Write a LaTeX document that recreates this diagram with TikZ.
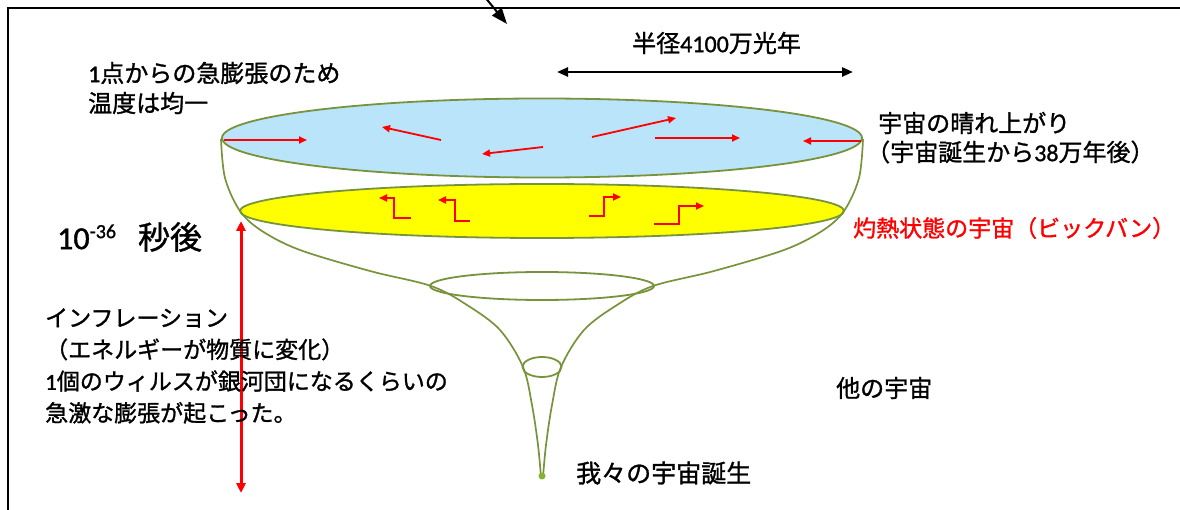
\documentclass[tikz,border=0pt]{standalone}
\usepackage{fontspec}
\setmainfont{Noto Sans CJK JP}[RawFeature={embolden=1.2}]
\newfontfamily\lat{Carlito}[RawFeature={embolden=1.2}]
\usetikzlibrary{arrows.meta}
\definecolor{bowl}{RGB}{119,147,60}
\definecolor{bowldot}{RGB}{130,180,50}
\definecolor{sky}{RGB}{186,228,250}
\definecolor{hot}{RGB}{255,255,0}
\begin{document}
\begin{tikzpicture}[x=1pt,y=-1pt,
  lbl/.style={inner sep=0pt, anchor=west, font=\fontsize{24}{30}\selectfont},
  rarrow/.style={draw=red, line width=1.8pt, -{Triangle[length=8pt,width=7pt]}},
  rim/.style={draw=bowl, line width=1.8pt},
  wall/.style={draw=bowl, line width=1.7pt},
]
\useasboundingbox (0,0) rectangle (1180,510);

% frame
\draw[line width=2.4pt] (8,512) -- (8,8) -- (1182,8);

% pointer coming in from above the frame
\coordinate (ptrA) at (484,-4);
\coordinate (ptrB) at (507,24);
\draw[line width=2pt, -{Triangle[length=16pt,width=12pt]}] (ptrA) -- (ptrB);

% hot early universe (yellow disc)
\path[fill=hot, rim] (542,211) ellipse [x radius=302, y radius=27];

% walls of the funnel
\draw[wall] plot[smooth, tension=0.55] coordinates {
  (221,139) (225,178) (240,211) (262,231) (300,250) (370,271) (431,286)
  (467,305) (500,330) (523,367) (532,405) (538,445) (541,477)};
\draw[wall] plot[smooth, tension=0.55] coordinates {
  (863,139) (859,178) (844,211) (822,231) (784,250) (714,271) (653,286)
  (617,305) (584,330) (561,367) (552,405) (546,445) (543,477)};

% cross sections of the funnel
\draw[rim] (542,286) ellipse [x radius=112, y radius=14];
\draw[rim] (542,367) ellipse [x radius=19.5, y radius=10];
\fill[bowldot] (542,476) circle [radius=3.5];

% clear-sky universe (blue disc)
\path[fill=sky, rim] (542,138) ellipse [x radius=320, y radius=39.5];

% motion inside the blue disc
\draw[rarrow] (224,140) -- (307,140);
\draw[rarrow] (441,140) -- (382,127);
\draw[rarrow] (543,147) -- (482,154);
\draw[rarrow] (592,137) -- (676,118);
\draw[rarrow] (655,138) -- (740,138);
\draw[rarrow] (861,141) -- (803,141);

% motion inside the yellow disc
\draw[rarrow] (411,218) -- (394,218) -- (394,198) -- (379,198);
\draw[rarrow] (470,221) -- (455,221) -- (455,200) -- (438,200);
\draw[rarrow] (589,216) -- (604,216) -- (604,197) -- (621,197);
\draw[rarrow] (654,224) -- (679,224) -- (679,206) -- (704,206);

% radius marker
\coordinate (radL) at (557,72);
\coordinate (radR) at (853,72);
\draw[line width=2.4pt, {Triangle[length=11pt,width=9pt]}-{Triangle[length=11pt,width=9pt]}] (radL) -- (radR);
\node[lbl] (radius) at (632,43) {半径{\lat 4100}万光年};

% inflation span
\coordinate (infT) at (241,221);
\coordinate (infB) at (241,493);
\draw[red, line width=3pt, {Triangle[length=10pt,width=9pt]}-{Triangle[length=10pt,width=9pt]}] (infT) -- (infB);

% labels
\node[lbl, align=left] (uniform) at (88,88) {{\lat 1}点からの急膨張のため\\温度は均一};
\node[lbl] (clear) at (878,123) {宇宙の晴れ上がり};
\node[lbl] (clearage) at (866,152) {（宇宙誕生から{\lat 38}万年後）};
\node[lbl, text=red, font=\fontsize{23}{26}\selectfont] (bigbang) at (853,228) {灼熱状態の宇宙（ビックバン）};
\node[lbl] (time) at (57,237) {{\lat\fontsize{32}{36}\selectfont 10\raisebox{11pt}{\fontsize{20}{22}\selectfont -36}}\hspace{22pt}{\fontsize{32}{36}\selectfont 秒後}};
\node[lbl, align=left, font=\fontsize{23}{31.7}\selectfont] (inflation) at (45,366)
  {インフレーション\\（エネルギーが物質に変化）\\{\lat 1}個のウィルスが銀河団になるくらいの\\急激な膨張が起こった。};
\node[lbl] (other) at (836,388) {他の宇宙};
\node[lbl, font=\fontsize{25}{30}\selectfont] (birth) at (576,473) {我々の宇宙誕生};
\end{tikzpicture}
\end{document}
